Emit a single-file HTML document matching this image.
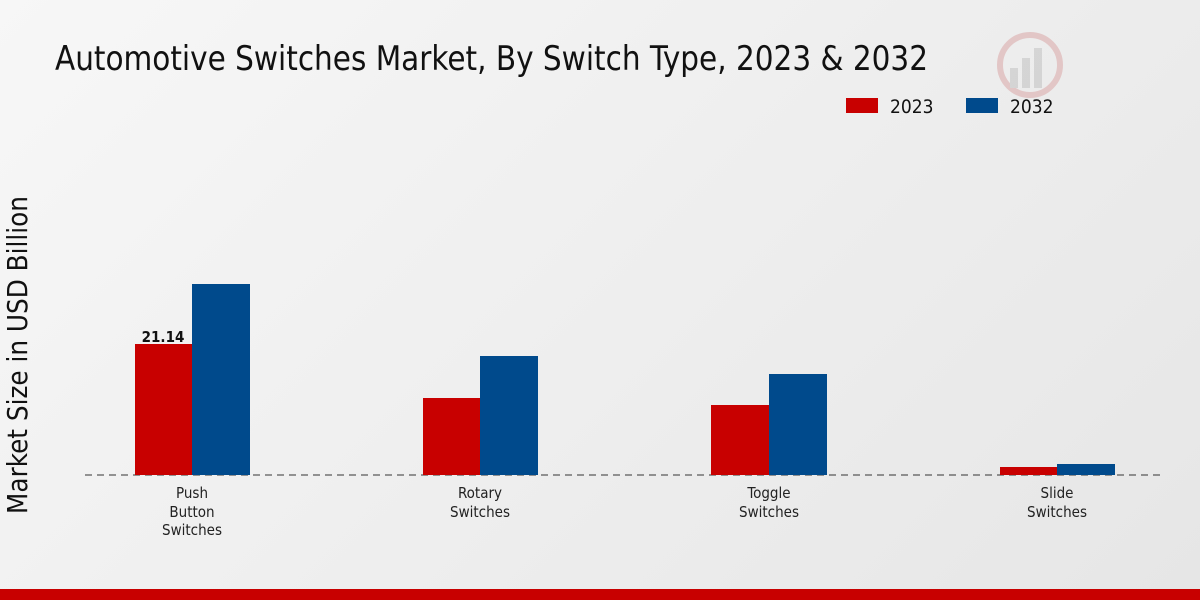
<!DOCTYPE html>
<html><head><meta charset="utf-8"><style>
html,body{margin:0;padding:0;}
body{width:1200px;height:600px;overflow:hidden;background:linear-gradient(135deg,#f7f7f7 0%,#e6e6e6 100%);font-family:"DejaVu Sans Condensed","DejaVu Sans","Liberation Sans",sans-serif;position:relative;}
</style></head><body>
<svg width="1200" height="600" style="position:absolute;left:0;top:0">
<text x="55" y="70" font-size="34" fill="#111" style="font-stretch:condensed" textLength="873" lengthAdjust="spacingAndGlyphs">Automotive Switches Market, By Switch Type, 2023 &amp; 2032</text>
<rect x="846" y="98" width="32" height="15" fill="#c80000"/>
<text x="890" y="113" font-size="19" fill="#111">2023</text>
<rect x="966" y="98" width="32" height="15" fill="#004a8c"/>
<text x="1010" y="113" font-size="19" fill="#111">2032</text>
<text transform="translate(27,355) rotate(-90)" font-size="27.5" fill="#111" text-anchor="middle">Market Size in USD Billion</text>
<line x1="85" y1="475" x2="1165" y2="475" stroke="#333" stroke-dasharray="7,5" stroke-width="1"/>
<rect x="135" y="344" width="57" height="131" fill="#c80000"/>
<rect x="192" y="284" width="58" height="191" fill="#004a8c"/>
<rect x="423" y="398" width="57" height="77" fill="#c80000"/>
<rect x="480" y="356" width="58" height="119" fill="#004a8c"/>
<rect x="711" y="405" width="58" height="70" fill="#c80000"/>
<rect x="769" y="374" width="58" height="101" fill="#004a8c"/>
<rect x="1000" y="467" width="57" height="8" fill="#c80000"/>
<rect x="1057" y="464" width="58" height="11" fill="#004a8c"/>
<text x="163" y="342" font-size="15" font-weight="bold" fill="#111" text-anchor="middle">21.14</text>
<g font-size="15" fill="#222" text-anchor="middle">
<text x="192" y="498">Push</text><text x="192" y="517">Button</text><text x="192" y="535">Switches</text>
<text x="480" y="498">Rotary</text><text x="480" y="517">Switches</text>
<text x="769" y="498">Toggle</text><text x="769" y="517">Switches</text>
<text x="1057" y="498">Slide</text><text x="1057" y="517">Switches</text>
</g>
<g opacity="0.35">
<circle cx="1030" cy="65" r="30" fill="none" stroke="#d08080" stroke-width="6"/>
<rect x="1010" y="68" width="8" height="20" fill="#aaa"/>
<rect x="1022" y="58" width="8" height="30" fill="#aaa"/>
<rect x="1034" y="48" width="8" height="40" fill="#aaa"/>
</g>
<rect x="0" y="589" width="1200" height="11" fill="#c80000"/>
</svg>
</body></html>
